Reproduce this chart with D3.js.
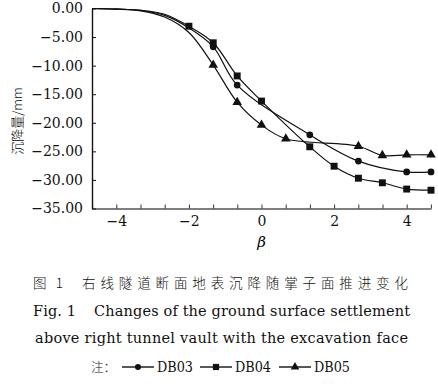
<!DOCTYPE html>
<html>
<head>
<meta charset="utf-8">
<script src="https://cdn.jsdelivr.net/npm/d3@7"></script>
<style>
  body { margin: 0; background: #fff; }
</style>
</head>
<body>
<div id="chart"></div>
<script>
// data
var xTicks = [-4, -2, 0, 2, 4];
var yTicks = [0, -5, -10, -15, -20, -25, -30, -35];

var db03Beta = [-4.67, -4, -3.33, -2.67, -2, -1.33, -0.67, 1.33, 2.67, 4, 4.67];
var db03Vals = [0, -0.1, -0.35, -1.2, -3.4, -6.7, -13.4, -22.1, -26.7, -28.6, -28.6];
var db03Mark = [0, 0, 0, 0, 0, 1, 1, 1, 1, 1, 1];

var db04Beta = [-4.67, -4, -3.33, -2.67, -2, -1.33, -0.67, 0, 1.33, 2, 2.67, 3.33, 4, 4.67];
var db04Vals = [0, -0.1, -0.3, -1.0, -3.1, -6.0, -11.8, -16.2, -24.2, -27.6, -29.7, -30.5, -31.6, -31.8];
var db04Mark = [0, 0, 0, 0, 1, 1, 1, 1, 1, 1, 1, 1, 1, 1];

var db05Beta = [-4.67, -4, -3.33, -2.67, -2, -1.33, -0.67, 0, 0.67, 2.67, 3.33, 4, 4.67];
var db05Vals = [0, -0.1, -0.4, -1.5, -4.2, -9.9, -16.4, -20.4, -22.8, -24.1, -25.7, -25.6, -25.6];
var db05Mark = [0, 0, 0, 0, 0, 1, 1, 1, 1, 1, 1, 1, 1];

var serif = 'DejaVu Serif, Liberation Serif, Tinos, Times New Roman, serif';
var cjk = 'Noto Sans CJK SC, sans-serif';

var width = 438, height = 388;
var margins = {left: 92, right: 7, top: 8.5, bottom: 179.5};

var svg = d3.select('#chart').append('svg')
    .attr('width', width)
    .attr('height', height);

var x = d3.scaleLinear().domain([-4.67, 4.67]).range([margins.left, width - margins.right]);
var y = d3.scaleLinear().domain([-35, 0]).range([height - margins.bottom, margins.top]);

var series = [
    {name: 'DB03', beta: db03Beta, vals: db03Vals, mark: db03Mark, shape: d3.symbolCircle, size: 36},
    {name: 'DB04', beta: db04Beta, vals: db04Vals, mark: db04Mark, shape: d3.symbolSquare, size: 48},
    {name: 'DB05', beta: db05Beta, vals: db05Vals, mark: db05Mark, shape: d3.symbolTriangle, size: 40}
];

// axes
var xMinor = d3.range(-14, 15, 2).map(function(d) { return d / 3; }).filter(function(d) { return d >= -4.67 && d <= 4.67; });
var xAxis = d3.axisBottom(x).tickValues(xMinor).tickSizeInner(-4).tickSizeOuter(0)
    .tickPadding(8)
    .tickFormat(function(d) {
        var r = Math.round(d);
        return (Math.abs(d - r) < 0.01 && xTicks.indexOf(r) >= 0) ? (r < 0 ? '\u2212' + (-r) : r) : '';
    });
var gx = svg.append('g').attr('transform', 'translate(0,' + y(-35) + ')').call(xAxis);
gx.attr('font-family', serif).attr('font-size', 14);
gx.select('.domain').attr('stroke', '#555').attr('stroke-width', 1.4);
gx.selectAll('.tick line').attr('stroke', '#333');
gx.selectAll('text').attr('fill', '#111');

var yAxis = d3.axisLeft(y).tickValues(yTicks).tickSizeInner(-4).tickSizeOuter(0)
    .tickPadding(9)
    .tickFormat(function(d) { return d < 0 ? '\u2212' + (-d).toFixed(2) : d.toFixed(2); });
var gy = svg.append('g').attr('transform', 'translate(' + x(-4.67) + ',0)').call(yAxis);
gy.attr('font-family', serif).attr('font-size', 14);
gy.select('.domain').attr('stroke', '#111').attr('stroke-width', 1.4);
gy.selectAll('.tick line').attr('stroke', '#111');
gy.selectAll('text').attr('fill', '#111');

// axis titles
svg.append('text')
    .attr('x', x(0)).attr('y', 247)
    .attr('text-anchor', 'middle')
    .attr('font-family', serif)
    .attr('font-size', 15).attr('font-style', 'italic')
    .text('\u03b2');

svg.append('text')
    .attr('transform', 'translate(22,121) rotate(-90)')
    .attr('text-anchor', 'middle')
    .attr('font-family', cjk).attr('font-weight', 300)
    .attr('font-size', 13)
    .text('沉降量/mm');

// lines and markers
var line = d3.line()
    .x(function(d) { return x(d.b); })
    .y(function(d) { return y(d.v); })
    .curve(d3.curveCatmullRom.alpha(0.5));

series.forEach(function(s) {
    var pts = s.beta.map(function(b, i) { return {b: b, v: s.vals[i], m: s.mark[i]}; });
    svg.append('path')
        .datum(pts)
        .attr('d', line)
        .attr('fill', 'none')
        .attr('stroke', '#111')
        .attr('stroke-width', 1.2);
    svg.selectAll(null)
        .data(pts.filter(function(d) { return d.m; }))
        .enter().append('path')
        .attr('transform', function(d) { return 'translate(' + x(d.b) + ',' + y(d.v) + ')'; })
        .attr('d', d3.symbol().type(s.shape).size(s.size))
        .attr('fill', '#111');
});

// caption
var cap = svg.append('g').attr('fill', '#111');
cap.append('text')
    .attr('x', 33).attr('y', 288).attr('font-size', 13.5)
    .attr('font-family', cjk).attr('font-weight', 300)
    .attr('textLength', 30).attr('lengthAdjust', 'spacing')
    .text('图 1');
cap.append('text')
    .attr('x', 82).attr('y', 288).attr('font-size', 13.5)
    .attr('font-family', cjk).attr('font-weight', 300)
    .attr('textLength', 326).attr('lengthAdjust', 'spacing')
    .text('右线隧道断面地表沉降随掌子面推进变化');
cap.append('text')
    .attr('x', 33).attr('y', 316).attr('font-size', 14.5)
    .attr('font-family', serif)
    .attr('textLength', 43).attr('lengthAdjust', 'spacing')
    .text('Fig. 1');
cap.append('text')
    .attr('x', 94).attr('y', 316).attr('font-size', 14.5)
    .attr('font-family', serif)
    .attr('textLength', 316).attr('lengthAdjust', 'spacing')
    .text('Changes of the ground surface settlement');
cap.append('text')
    .attr('x', 35).attr('y', 343).attr('font-size', 14.5)
    .attr('font-family', serif)
    .attr('textLength', 373).attr('lengthAdjust', 'spacing')
    .text('above right tunnel vault with the excavation face');

// legend
var legY = 367;
cap.append('text')
    .attr('x', 91).attr('y', legY + 5).attr('font-size', 12.5)
    .attr('font-family', cjk).attr('font-weight', 300)
    .text('注：');
var legX = [122, 200, 279];
series.forEach(function(s, i) {
    var lx = legX[i];
    cap.append('line')
        .attr('x1', lx).attr('x2', lx + 32)
        .attr('y1', legY).attr('y2', legY)
        .attr('stroke', '#111').attr('stroke-width', 1.4);
    cap.append('path')
        .attr('transform', 'translate(' + (lx + 16) + ',' + legY + ')')
        .attr('d', d3.symbol().type(s.shape).size(s.size * 0.8))
        .attr('fill', '#111');
    cap.append('text')
        .attr('x', lx + 35).attr('y', legY + 5).attr('font-size', 14)
        .attr('font-family', serif)
        .attr('textLength', 36).attr('lengthAdjust', 'spacingAndGlyphs')
        .text(s.name);
});
</script>
</body>
</html>
